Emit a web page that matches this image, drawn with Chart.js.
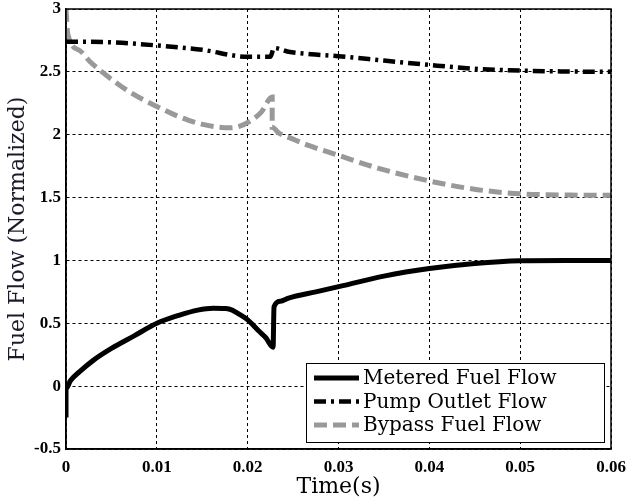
<!DOCTYPE html>
<html>
<head>
<meta charset="utf-8">
<script src="https://cdn.jsdelivr.net/npm/chart.js@4.4.1/dist/chart.umd.min.js"></script>
<style>
  html, body { margin: 0; padding: 0; background: #fff; }
  canvas { display: block; }
</style>
</head>
<body>
<canvas id="flowChart" width="629" height="502"></canvas>
<script>
// === DATA ===
const X_TICKS = [0, 0.01, 0.02, 0.03, 0.04, 0.05, 0.06];
const Y_TICKS = [-0.5, 0, 0.5, 1, 1.5, 2, 2.5, 3];

const meteredTime = [0, 0, 0.0005, 0.0015, 0.003, 0.005, 0.0075, 0.01, 0.0125, 0.0145, 0.0162, 0.0176, 0.0183, 0.019, 0.02, 0.0212, 0.022, 0.0228, 0.0229, 0.0236, 0.0245, 0.0275, 0.0305, 0.035, 0.04, 0.045, 0.05, 0.055, 0.06];
const meteredFlow = [-0.25, -0.02, 0.045, 0.115, 0.205, 0.30, 0.40, 0.50, 0.565, 0.605, 0.62, 0.618, 0.605, 0.575, 0.527, 0.44, 0.385, 0.31, 0.63, 0.675, 0.70, 0.75, 0.80, 0.875, 0.935, 0.975, 0.997, 1.0, 1.0];

const pumpTime = [0, 0.005, 0.01, 0.015, 0.02, 0.0225, 0.0229, 0.0245, 0.027, 0.03, 0.035, 0.04, 0.045, 0.05, 0.055, 0.06];
const pumpFlow = [2.74, 2.735, 2.71, 2.675, 2.62, 2.62, 2.69, 2.66, 2.64, 2.625, 2.59, 2.555, 2.525, 2.51, 2.503, 2.50];

const bypassTime = [0, 0.0002, 0.0015, 0.0026, 0.0037, 0.0053, 0.0069, 0.0086, 0.01, 0.0119, 0.0135, 0.0152, 0.0168, 0.0179, 0.019, 0.0203, 0.0215, 0.0227, 0.0227, 0.0234, 0.025, 0.0267, 0.03, 0.0343, 0.04, 0.0453, 0.05, 0.0555, 0.06];
const bypassFlow = [3.0, 2.80, 2.67, 2.585, 2.515, 2.425, 2.345, 2.275, 2.225, 2.16, 2.115, 2.08, 2.06, 2.055, 2.065, 2.11, 2.18, 2.30, 2.06, 2.015, 1.965, 1.915, 1.836, 1.735, 1.632, 1.563, 1.53, 1.52, 1.518];

const toPoints = (xs, ys) => xs.map((x, i) => ({ x: x, y: ys[i] }));

// === PLUGINS ===
// solid frame around the plot area (MATLAB box)
const frameBox = {
    id: 'frameBox',
    afterDatasetsDraw(chart) {
        const { ctx, chartArea: a } = chart;
        ctx.save();
        ctx.strokeStyle = '#000';
        ctx.lineWidth = 1.5;
        ctx.setLineDash([]);
        ctx.strokeRect(a.left, a.top, a.right - a.left, a.bottom - a.top);
        ctx.restore();
    }
};

// legend drawn inside the plot, bottom right
const insideLegend = {
    id: 'insideLegend',
    afterDraw(chart) {
        const { ctx, chartArea: a } = chart;
        const w = 298, h = 79;
        const x0 = a.right - 7 - w, y0 = a.bottom - 7 - h;
        ctx.save();
        ctx.fillStyle = '#fff';
        ctx.fillRect(x0, y0, w, h);
        ctx.strokeStyle = '#000';
        ctx.lineWidth = 1;
        ctx.setLineDash([]);
        ctx.strokeRect(x0 + 0.5, y0 + 0.5, w, h);
        ctx.font = '20px "DejaVu Serif", serif';
        ctx.textBaseline = 'middle';
        chart.data.datasets.forEach((ds, i) => {
            const cy = y0 + 15 + i * 23.5;
            ctx.strokeStyle = ds.borderColor;
            ctx.lineWidth = ds.borderWidth;
            ctx.setLineDash(ds.borderDash || []);
            ctx.beginPath();
            ctx.moveTo(x0 + 8, cy);
            ctx.lineTo(x0 + 53, cy);
            ctx.stroke();
            ctx.setLineDash([]);
            ctx.fillStyle = '#000';
            ctx.fillText(ds.label, x0 + 57, cy + 1);
        });
        ctx.restore();
    }
};

// === CHART ===
const ctx = document.getElementById('flowChart').getContext('2d');
new Chart(ctx, {
    type: 'line',
    data: {
        datasets: [
            {
                label: 'Metered Fuel Flow',
                data: toPoints(meteredTime, meteredFlow),
                borderColor: '#000',
                borderWidth: 5,
                pointRadius: 0,
                cubicInterpolationMode: 'monotone'
            },
            {
                label: 'Pump Outlet Flow',
                data: toPoints(pumpTime, pumpFlow),
                borderColor: '#000',
                borderWidth: 4.5,
                borderDash: [12, 5, 3, 5],
                pointRadius: 0,
                cubicInterpolationMode: 'monotone'
            },
            {
                label: 'Bypass Fuel Flow',
                data: toPoints(bypassTime, bypassFlow),
                borderColor: '#999',
                borderWidth: 5,
                borderDash: [13, 6],
                pointRadius: 0,
                cubicInterpolationMode: 'monotone'
            }
        ]
    },
    options: {
        responsive: false,
        animation: false,
        devicePixelRatio: 1,
        layout: { padding: { top: 9, right: 18, left: 0, bottom: 0 } },
        plugins: { legend: { display: false }, tooltip: { enabled: false } },
        scales: {
            x: {
                type: 'linear',
                min: 0, max: 0.06,
                afterBuildTicks: (s) => { s.ticks = X_TICKS.map(v => ({ value: v })); },
                afterFit: (s) => { s.height = 53; s.paddingLeft = 0; s.paddingRight = 0; },
                grid: { color: '#000', lineWidth: 1, drawTicks: false },
                border: { display: true, color: '#000', width: 1.5, dash: [3, 3] },
                ticks: {
                    color: '#000',
                    padding: 8,
                    maxRotation: 0,
                    font: { family: '"Liberation Serif", serif', size: 17, weight: 'bold' },
                    callback: (v) => String(v)
                },
                title: {
                    display: true,
                    text: 'Time(s)',
                    color: '#000',
                    padding: { top: 0, bottom: 2 },
                    font: { family: '"DejaVu Serif", serif', size: 22 }
                }
            },
            y: {
                min: -0.5, max: 3,
                afterBuildTicks: (s) => { s.ticks = Y_TICKS.map(v => ({ value: v })); },
                afterFit: (s) => { s.width = 66; s.paddingTop = 0; s.paddingBottom = 0; },
                grid: { color: '#000', lineWidth: 1, drawTicks: false },
                border: { display: true, color: '#000', width: 1.5, dash: [3, 3] },
                ticks: {
                    color: '#000',
                    padding: 5,
                    font: { family: '"Liberation Serif", serif', size: 17, weight: 'bold' },
                    callback: (v) => String(v)
                },
                title: {
                    display: true,
                    text: 'Fuel Flow (Normalized)',
                    color: '#1a1a2a',
                    padding: { top: 5, bottom: 0 },
                    font: { family: '"DejaVu Serif", serif', size: 22 }
                }
            }
        }
    },
    plugins: [frameBox, insideLegend]
});
</script>
</body>
</html>
